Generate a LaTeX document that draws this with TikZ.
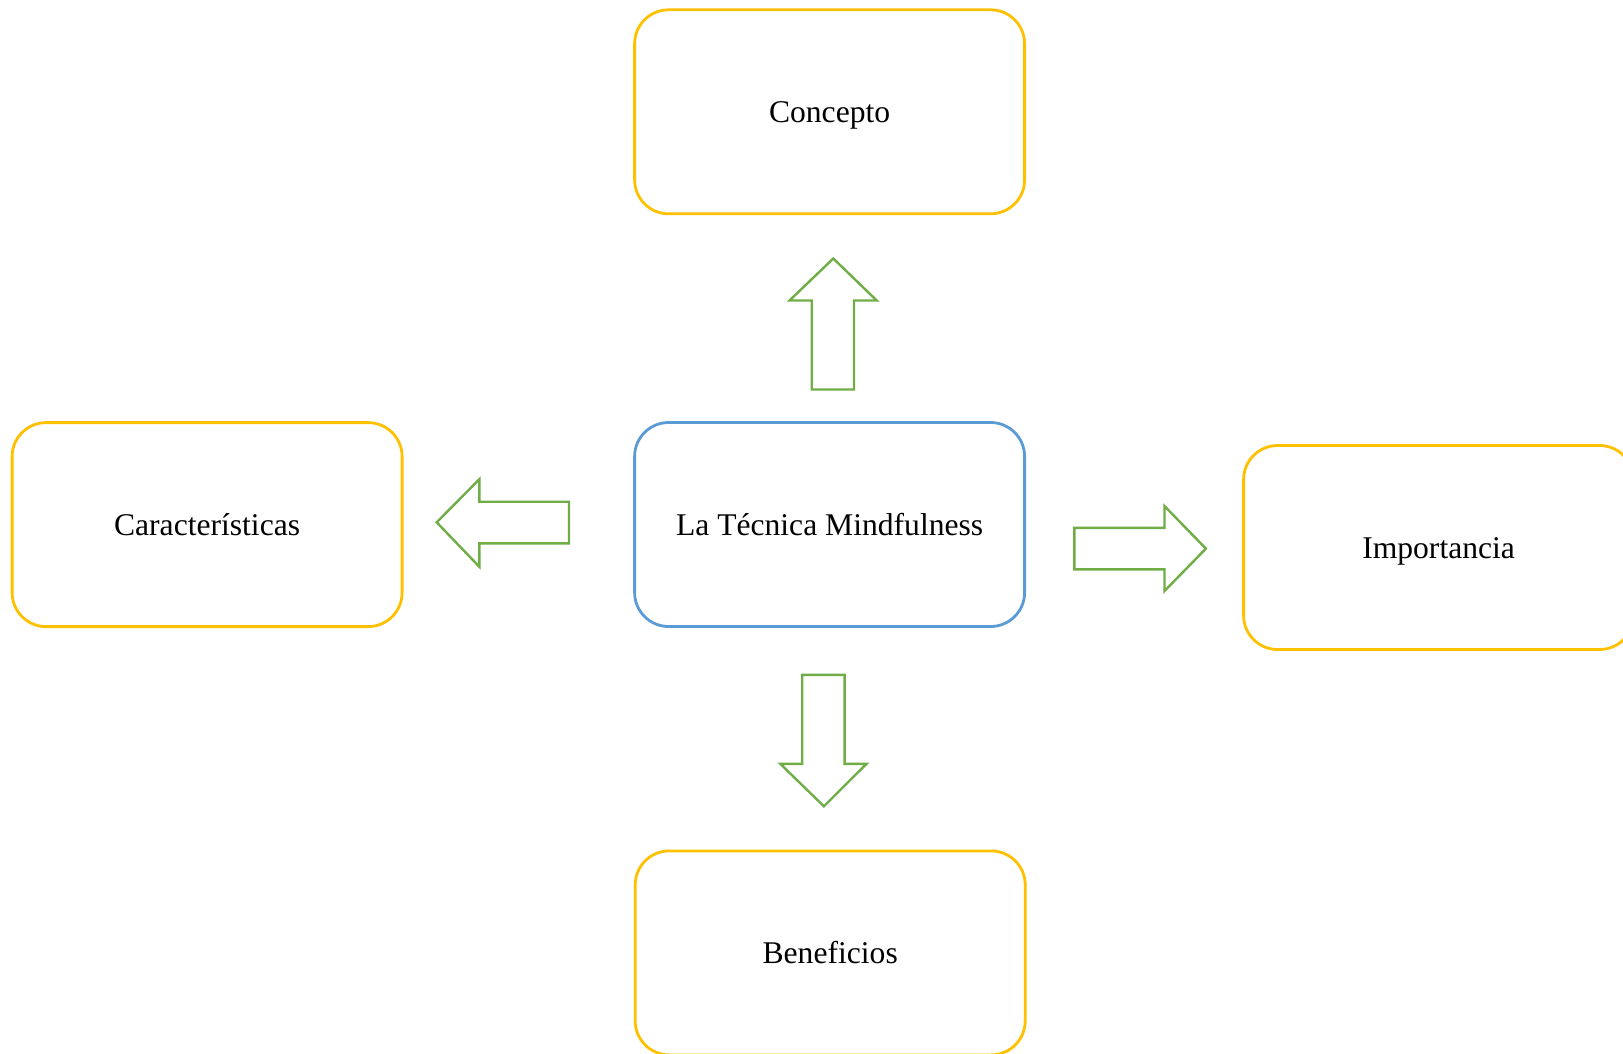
\documentclass[tikz,border=0pt]{standalone}
\usepackage{fontspec}
\setmainfont{Liberation Serif}
\definecolor{boxyellow}{HTML}{FFC000}
\definecolor{boxblue}{HTML}{5B9BD5}
\definecolor{arrowgreen}{HTML}{70AD47}
\begin{document}
\begin{tikzpicture}[x=1pt,y=-1pt,
  topic/.style={draw=boxyellow, line width=2.8pt, rounded corners=34pt,
    minimum width=390pt, minimum height=204pt, inner sep=0pt,
    text height=24pt, text depth=2.2pt,
    font=\fontsize{31.6}{38}\selectfont},
  core/.style={topic, draw=boxblue},
  blockarrow/.style={draw=arrowgreen, line width=2.4pt, line join=miter}]
\useasboundingbox (0,0) rectangle (1623,1053);

\node[core]  (center) at (829.6,524.5) {La Técnica Mindfulness};
\node[topic] (concepto) at (829.6,111.8) {Concepto};
\node[topic] (carac) at (207.1,524.6) {Características};
\node[topic] (import) at (1438.6,547.5) {Importancia};
\node[topic] (benef) at (830.2,952.9) {Beneficios};

% block arrows pointing from the centre to each topic
\draw[blockarrow] (811.7,389.5) -- (811.7,300.5) -- (789.5,300.5) -- (833.3,258.5)
  -- (876.7,300.5) -- (854,300.5) -- (854,389.5) -- cycle;
\draw[blockarrow] (569,501.7) -- (479.3,501.7) -- (479.3,479.3) -- (436.7,522.3)
  -- (479.3,566.7) -- (479.3,543.3) -- (569,543.3) -- cycle;
\draw[blockarrow] (1074.4,527.9) -- (1164.5,527.9) -- (1164.5,506.1) -- (1205.9,548.6)
  -- (1164.5,591) -- (1164.5,569.3) -- (1074.4,569.3) -- cycle;
\draw[blockarrow] (802.2,674.9) -- (802.2,763.9) -- (780.4,763.9) -- (823.9,806.3)
  -- (866.4,763.9) -- (844.6,763.9) -- (844.6,674.9) -- cycle;
\end{tikzpicture}
\end{document}
